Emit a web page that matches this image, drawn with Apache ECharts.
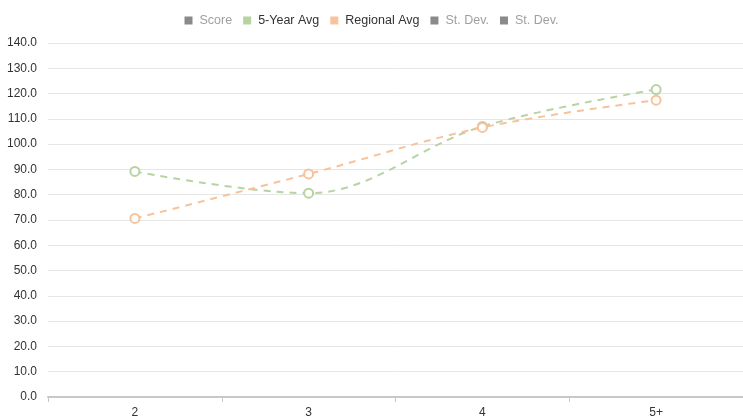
<!DOCTYPE html>
<html>
<head>
<meta charset="utf-8">
<script src="https://cdn.jsdelivr.net/npm/echarts@6/dist/echarts.min.js"></script>
<style>html,body{margin:0;padding:0;background:#fff}#c{width:743px;height:420px}</style>
</head>
<body>
<div id="c"></div>
<script>
var categories = ['2', '3', '4', '5+'];
var fiveYearAvg = [89.2, 80.6, 107.0, 121.6];
var regionalAvg = [70.6, 88.2, 106.6, 117.4];
var scoreVals = [];
var stDev1 = [];
var stDev2 = [];
var yTicks = { min: 0, max: 140, interval: 10 };

var green = '#b8d3a2';
var orange = '#f6c39c';
var gray = '#8a8a8a';

var chart = echarts.init(document.getElementById('c'));
function lineSeries(name, data, color) {
  return {
    name: name, type: 'line', data: data, smooth: 0.35,
    symbol: 'emptyCircle', symbolSize: 9,
    itemStyle: { color: color, borderWidth: 2 },
    lineStyle: { color: color, width: 2, type: [7, 6] },
    emphasis: { disabled: true }
  };
}
function emptySeries(name, data) {
  return { name: name, type: 'line', data: data, itemStyle: { color: gray }, lineStyle: { color: gray } };
}
chart.setOption({
  animation: false,
  legend: {
    top: 9, left: 'center', itemWidth: 8, itemHeight: 8, itemGap: 11,
    icon: 'rect',
    textStyle: { fontFamily: 'Liberation Sans, Arial', fontSize: 12.5, color: '#333', padding: [0, 0, 0, 2] },
    data: [
      { name: 'Score', itemStyle: { color: gray }, textStyle: { color: '#a0a0a0' } },
      { name: '5-Year Avg', itemStyle: { color: green } },
      { name: 'Regional Avg', itemStyle: { color: orange } },
      { name: 'St. Dev.', itemStyle: { color: gray }, textStyle: { color: '#a0a0a0' } },
      { name: 'St. Dev.\u200b', itemStyle: { color: gray }, textStyle: { color: '#a0a0a0' } }
    ]
  },
  grid: { left: 48, right: 0, top: 43, bottom: 23, containLabel: false },
  xAxis: {
    type: 'category', data: categories, boundaryGap: true,
    axisLine: { lineStyle: { color: '#c8c8c8', width: 2 } },
    axisTick: { show: true, length: 5, lineStyle: { color: '#c8c8c8' } },
    axisLabel: { color: '#333', fontFamily: 'Liberation Sans, Arial', fontSize: 12, margin: 10 }
  },
  yAxis: {
    type: 'value', min: yTicks.min, max: yTicks.max, interval: yTicks.interval,
    axisLine: { show: false }, axisTick: { show: false },
    splitLine: { lineStyle: { color: '#e6e6e6', width: 1 } },
    axisLabel: { color: '#333', fontFamily: 'Liberation Sans, Arial', fontSize: 12, margin: 11,
      formatter: function (v) { return v.toFixed(1); } }
  },
  series: [
    emptySeries('Score', scoreVals),
    lineSeries('5-Year Avg', fiveYearAvg, green),
    lineSeries('Regional Avg', regionalAvg, orange),
    emptySeries('St. Dev.', stDev1),
    emptySeries('St. Dev.\u200b', stDev2)
  ]
});
</script>
</body>
</html>
